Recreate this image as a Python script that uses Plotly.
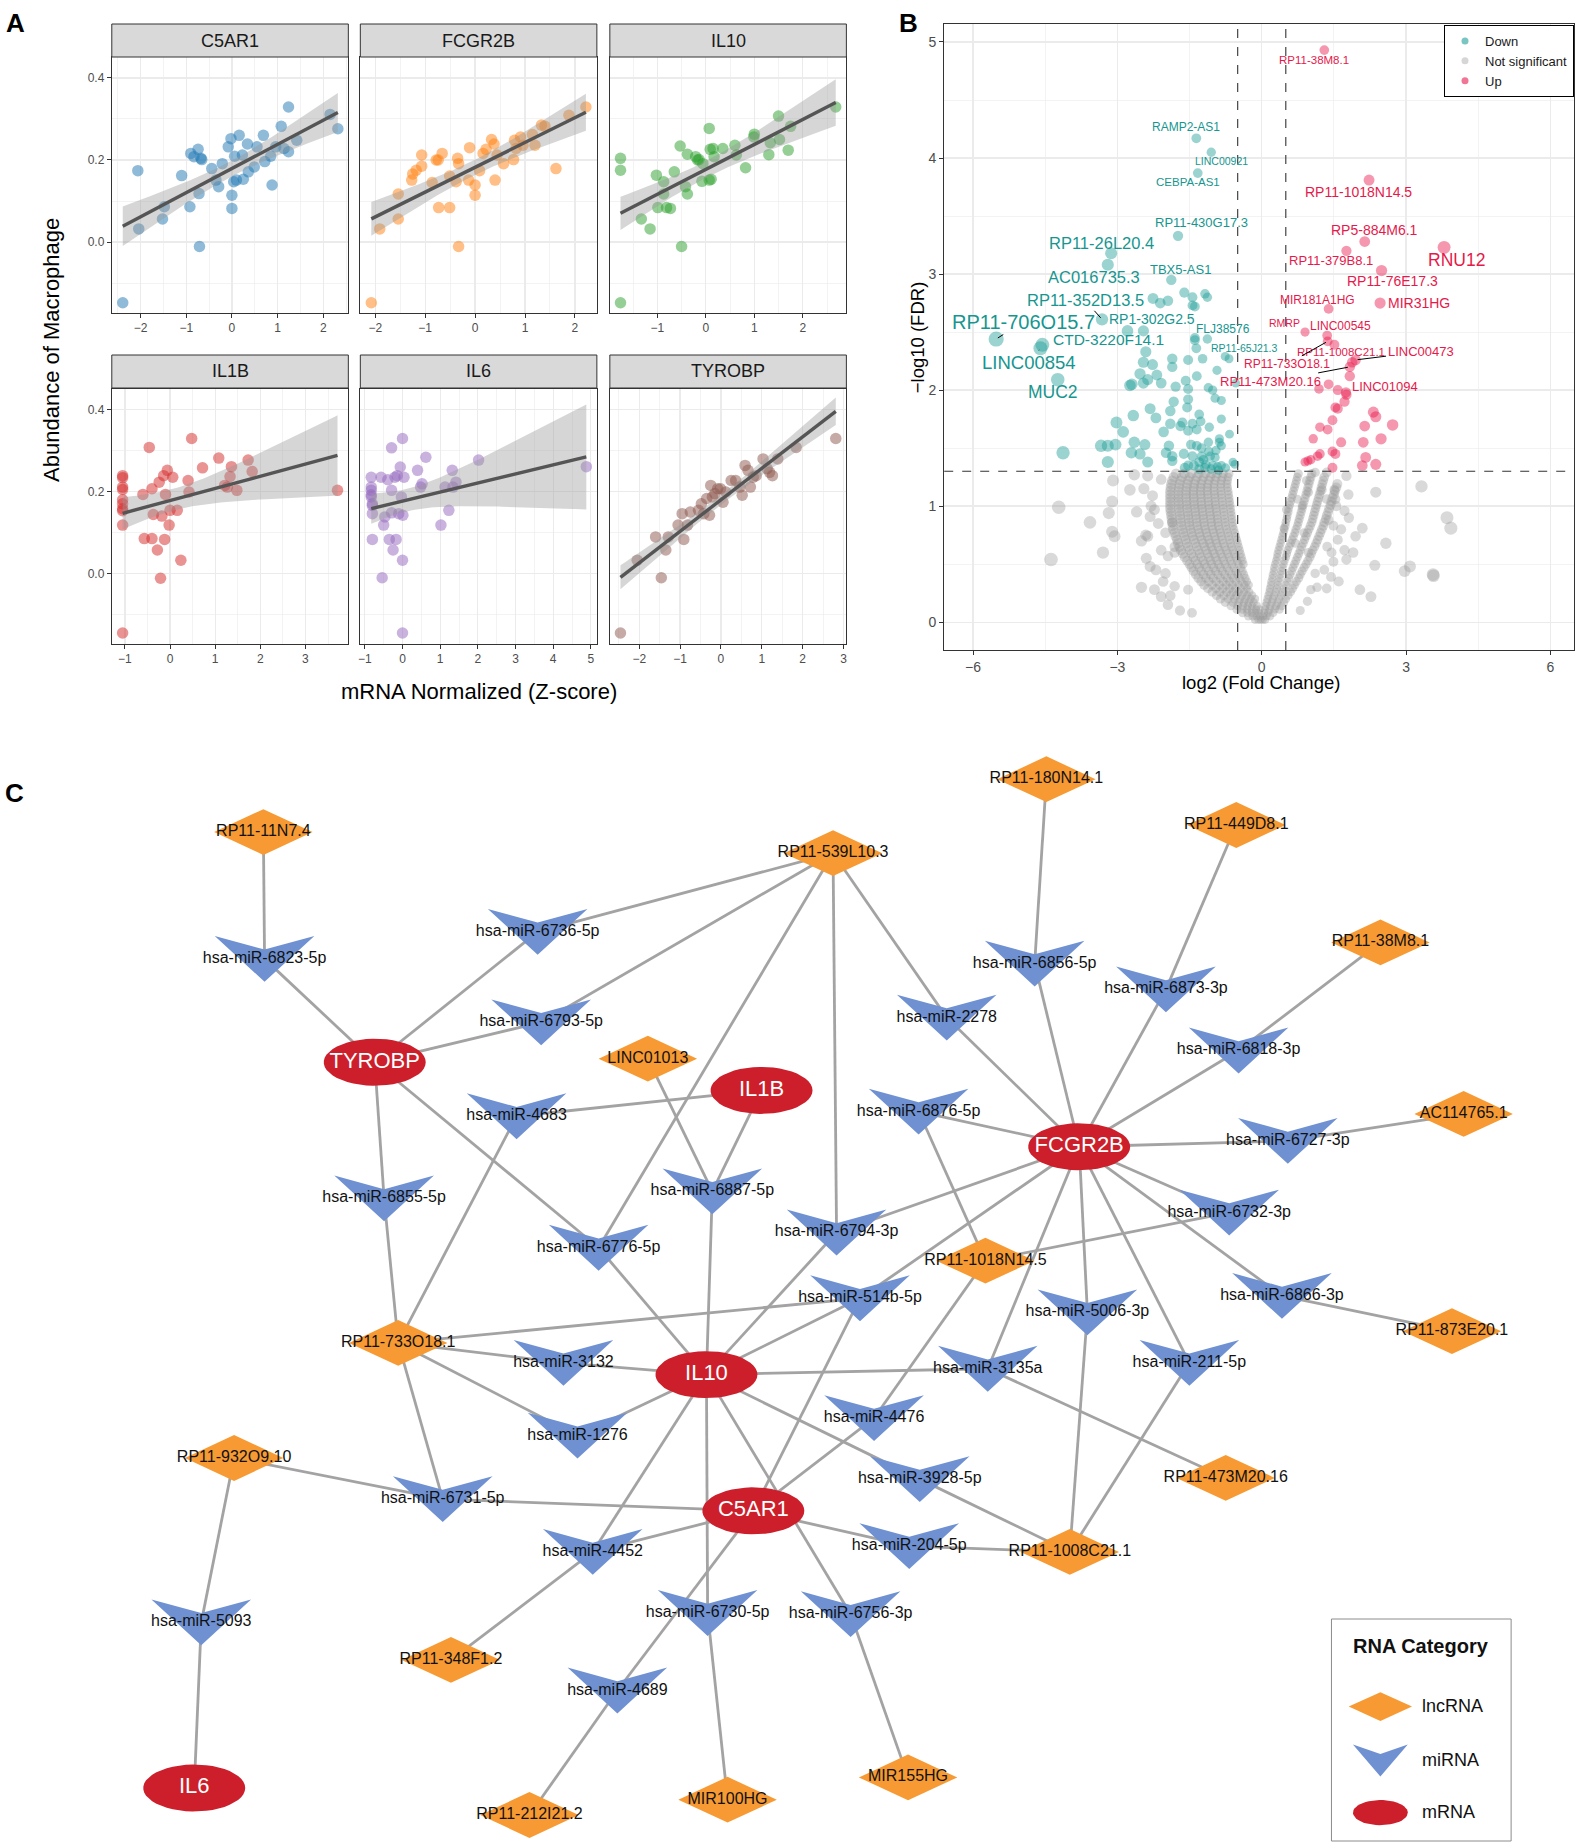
import numpy as np
import plotly.graph_objects as go

W, H = 1576, 1842
FONT = "Liberation Sans, Arial, Helvetica, sans-serif"

# ======================= Panel A data =======================
genes_a = ["C5AR1", "FCGR2B", "IL10", "IL1B", "IL6", "TYROBP"]
colors_a = ["#1F77B4", "#FF7F0E", "#2CA02C", "#D62728", "#9467BD", "#8C564B"]

c5ar1_pts = [(-2.39, -0.148), (-2.06, 0.174), (-2.04, 0.032), (-1.52, 0.056), (-1.48, 0.086),
             (-1.10, 0.162), (-0.92, 0.086), (-0.90, 0.216), (-0.83, 0.208), (-0.74, 0.226),
             (-0.71, -0.011), (-0.72, 0.118), (-0.68, 0.204), (-0.66, 0.201), (-0.44, 0.179),
             (-0.35, 0.151), (-0.29, 0.135), (-0.21, 0.191), (-0.08, 0.232), (-0.02, 0.252),
             (0.00, 0.114), (0.00, 0.082), (0.04, 0.147), (0.06, 0.209), (0.10, 0.151),
             (0.16, 0.260), (0.23, 0.212), (0.25, 0.153), (0.34, 0.239), (0.36, 0.171),
             (0.49, 0.183), (0.55, 0.232), (0.69, 0.260), (0.72, 0.196), (0.85, 0.209),
             (0.88, 0.139), (0.96, 0.232), (1.08, 0.282), (1.14, 0.228), (1.24, 0.329),
             (1.24, 0.220), (1.42, 0.248), (2.15, 0.311), (2.32, 0.276)]
fcgr2b_pts = [(-2.08, -0.148), (-1.91, 0.032), (-1.54, 0.056), (-1.54, 0.117), (-1.27, 0.151),
              (-1.25, 0.166), (-1.18, 0.175), (-1.07, 0.185), (-1.07, 0.212), (-0.86, 0.145),
              (-0.78, 0.200), (-0.74, 0.200), (-0.73, 0.084), (-0.66, 0.216), (-0.51, 0.084),
              (-0.51, 0.161), (-0.38, 0.147), (-0.35, 0.204), (-0.33, -0.011), (-0.33, 0.191),
              (-0.13, 0.151), (-0.11, 0.230), (0.00, 0.139), (0.00, 0.114), (0.09, 0.174),
              (0.16, 0.216), (0.22, 0.226), (0.33, 0.250), (0.38, 0.239), (0.40, 0.151),
              (0.44, 0.212), (0.57, 0.191), (0.77, 0.201), (0.79, 0.248), (0.82, 0.228),
              (0.91, 0.256), (0.96, 0.236), (1.15, 0.262), (1.20, 0.236), (1.33, 0.285),
              (1.40, 0.282), (1.62, 0.179), (1.88, 0.309), (2.22, 0.329)]
il10_pts = [(-1.76, -0.148), (-1.76, 0.204), (-1.76, 0.175), (-1.33, 0.056), (-1.15, 0.032),
            (-1.02, 0.163), (-0.99, 0.084), (-0.87, 0.147), (-0.87, 0.117), (-0.81, 0.084),
            (-0.73, 0.082), (-0.65, 0.171), (-0.53, 0.234), (-0.50, -0.011), (-0.42, 0.135),
            (-0.38, 0.117), (-0.38, 0.214), (-0.21, 0.208), (-0.17, 0.200), (-0.14, 0.201),
            (-0.08, 0.148), (-0.06, 0.191), (0.07, 0.277), (0.07, 0.151), (0.09, 0.226),
            (0.11, 0.153), (0.15, 0.228), (0.17, 0.208), (0.35, 0.228), (0.60, 0.236),
            (0.63, 0.212), (0.82, 0.181), (0.99, 0.256), (1.00, 0.263), (1.30, 0.213),
            (1.33, 0.242), (1.50, 0.307), (1.52, 0.250), (1.70, 0.224), (1.75, 0.282),
            (2.68, 0.329)]
il1b_pts = [(-1.05, -0.146), (-1.05, 0.239), (-1.05, 0.234), (-1.05, 0.211), (-1.05, 0.205),
            (-1.05, 0.180), (-1.05, 0.170), (-1.05, 0.158), (-1.05, 0.153), (-1.05, 0.118),
            (-0.60, 0.193), (-0.57, 0.085), (-0.46, 0.308), (-0.40, 0.085), (-0.40, 0.207),
            (-0.37, 0.144), (-0.28, 0.057), (-0.24, 0.223), (-0.21, -0.012), (-0.18, 0.140),
            (-0.14, 0.239), (-0.12, 0.083), (-0.10, 0.193), (-0.06, 0.252), (-0.02, 0.118),
            (0.00, 0.154), (0.06, 0.235), (0.16, 0.154), (0.24, 0.032), (0.40, 0.227),
            (0.42, 0.199), (0.48, 0.330), (0.72, 0.258), (1.08, 0.282), (1.21, 0.215),
            (1.27, 0.211), (1.33, 0.237), (1.36, 0.261), (1.48, 0.203), (1.73, 0.277),
            (1.82, 0.249), (3.71, 0.203)]
il6_pts = [(0.00, -0.146), (-0.54, -0.011), (-0.80, 0.083), (-0.83, 0.211), (-0.83, 0.203),
           (-0.83, 0.192), (-0.83, 0.187), (-0.80, 0.170), (-0.80, 0.166), (-0.83, 0.235),
           (-0.80, 0.146), (-0.50, 0.118), (-0.47, 0.138), (-0.57, 0.235), (-0.39, 0.229),
           (-0.35, 0.083), (-0.29, 0.307), (-0.29, 0.203), (-0.29, 0.148), (-0.25, 0.057),
           (-0.20, 0.235), (-0.17, 0.083), (-0.14, 0.239), (-0.10, 0.146), (-0.06, 0.260),
           (-0.03, 0.187), (0.00, 0.330), (0.00, 0.032), (0.01, 0.142), (0.04, 0.235),
           (0.40, 0.252), (0.48, 0.211), (0.52, 0.219), (0.62, 0.284), (1.02, 0.118),
           (1.13, 0.211), (1.23, 0.154), (1.32, 0.252), (1.34, 0.211), (1.42, 0.223),
           (2.02, 0.277), (4.88, 0.261)]
tyrobp_pts = [(-2.46, -0.146), (-2.05, 0.032), (-1.60, 0.089), (-1.46, -0.011), (-1.35, 0.057),
              (-1.29, 0.089), (-1.05, 0.118), (-0.95, 0.146), (-0.91, 0.083), (-0.82, 0.118),
              (-0.75, 0.150), (-0.55, 0.154), (-0.48, 0.170), (-0.42, 0.146), (-0.35, 0.183),
              (-0.28, 0.142), (-0.25, 0.215), (-0.21, 0.187), (-0.15, 0.195), (-0.08, 0.207),
              (-0.01, 0.207), (0.05, 0.174), (0.12, 0.199), (0.25, 0.227), (0.36, 0.227),
              (0.46, 0.211), (0.52, 0.191), (0.59, 0.264), (0.66, 0.252), (0.72, 0.211),
              (0.79, 0.235), (0.86, 0.239), (1.03, 0.280), (1.13, 0.256), (1.19, 0.247),
              (1.26, 0.239), (1.39, 0.280), (1.84, 0.308), (2.81, 0.330)]
panel_a_pts = [c5ar1_pts, fcgr2b_pts, il10_pts, il1b_pts, il6_pts, tyrobp_pts]
x_ticks_a = [-2, -1, 0, 1, 2, 3, 4, 5]
y_ticks_a = [0.0, 0.2, 0.4]

# ======================= Panel B data =======================
FC_CUT = 0.5
FDR_CUT = 1.301

down_labels = [("RAMP2-AS1", -1.36, 4.17), ("LINC00921", -1.05, 4.05), ("CEBPA-AS1", -1.33, 3.87),
               ("RP11-430G17.3", -1.74, 3.33), ("RP11-26L20.4", -3.13, 3.18), ("AC016735.3", -3.20, 3.08),
               ("TBX5-AS1", -1.88, 2.95), ("RP11-352D13.5", -3.32, 2.61), ("RP1-302G2.5", -2.46, 2.51),
               ("RP11-706O15.7", -5.52, 2.44), ("CTD-3220F14.1", -4.56, 2.39), ("LINC00854", -4.60, 2.36),
               ("MUC2", -4.24, 2.09), ("FLJ38576", -1.13, 2.44), ("RP11-65J21.3", -0.76, 2.29)]
up_labels = [("RP11-38M8.1", 1.30, 4.93), ("RP11-1018N14.5", 2.23, 3.81), ("RP5-884M6.1", 2.14, 3.28),
             ("RP11-379B8.1", 1.76, 3.20), ("RNU12", 3.79, 3.23), ("RP11-76E17.3", 2.49, 3.03),
             ("MIR31HG", 2.46, 2.75), ("MIR181A1HG", 1.39, 2.70), ("RMRP", 0.90, 2.50),
             ("LINC00545", 1.36, 2.47), ("RP11-1008C21.1", 1.51, 2.39), ("RP11-733O18.1", 1.37, 2.42),
             ("LINC00473", 1.95, 2.26), ("RP11-473M20.16", 1.83, 2.20), ("LINC01094", 1.83, 2.12)]

down_pts = [(-2.79, 2.51), (-2.41, 2.33), (-1.39, 2.45), (-1.36, 2.36), (-1.23, 2.27), (-1.53, 2.26),
            (-1.86, 2.27), (-2.46, 2.24), (-2.27, 2.22), (-2.53, 2.14), (-1.86, 2.20), (-2.18, 2.13),
            (-0.93, 2.17), (-1.35, 2.12), (-1.58, 2.08), (-2.37, 2.09), (-2.74, 2.04), (-2.70, 2.05),
            (-2.46, 2.06), (-2.09, 2.06), (-1.79, 2.03), (-1.53, 2.01), (-1.11, 2.02), (-1.02, 2.00),
            (-0.54, 2.06), (-1.53, 1.92), (-0.97, 1.93), (-0.84, 1.91), (-1.55, 1.85), (-2.32, 1.84),
            (-1.83, 1.90), (-1.90, 1.82), (-1.30, 1.79), (-2.67, 1.78), (-2.20, 1.76), (-3.02, 1.72),
            (-1.90, 1.71), (-1.65, 1.72), (-1.69, 1.69), (-1.44, 1.71), (-1.27, 1.73), (-1.09, 1.68),
            (-0.84, 1.75), (-2.88, 1.64), (-1.53, 1.65), (-1.35, 1.66), (-2.04, 1.64), (-0.88, 1.58),
            (-0.67, 1.62), (-3.34, 1.52), (-3.20, 1.52), (-3.04, 1.53), (-2.65, 1.55), (-2.43, 1.53),
            (-1.93, 1.52), (-1.47, 1.53), (-1.35, 1.52), (-1.11, 1.55), (-0.84, 1.52), (-0.88, 1.55),
            (-4.13, 1.46), (-2.71, 1.46), (-2.53, 1.45), (-1.99, 1.46), (-1.86, 1.43), (-1.62, 1.45),
            (-1.44, 1.43), (-1.25, 1.43), (-1.07, 1.43), (-0.97, 1.42), (-3.20, 1.38), (-2.37, 1.38),
            (-1.86, 1.39), (-1.30, 1.38), (-1.16, 1.36), (-1.21, 1.40), (-1.02, 1.35), (-0.84, 1.35),
            (-0.60, 1.38), (-0.56, 1.36), (-1.41, 1.35), (-1.53, 1.35), (-2.26, 2.79), (-2.11, 2.75),
            (-1.95, 2.77), (-1.61, 2.84), (-1.44, 2.80), (-1.18, 2.83), (-1.13, 2.80), (-1.44, 2.73),
            (-1.39, 2.72), (-1.39, 2.43), (-0.68, 2.27), (-1.30, 1.32), (-1.18, 1.33), (-1.05, 1.32),
            (-0.92, 1.34), (-1.10, 1.47), (-0.95, 1.48), (-1.25, 1.50), (-0.90, 1.31), (-0.75, 1.33),
            (-1.60, 1.33)]
up_pts = [(1.39, 2.05), (1.19, 2.01), (1.58, 2.00), (1.75, 1.98), (1.72, 1.90), (1.53, 1.85),
          (1.58, 1.84), (2.32, 1.81), (2.37, 1.77), (2.14, 1.69), (2.72, 1.70), (1.47, 1.74),
          (1.21, 1.68), (1.37, 1.66), (1.07, 1.58), (2.48, 1.58), (2.11, 1.55), (1.65, 1.55),
          (1.47, 1.47), (1.53, 1.45), (1.21, 1.45), (1.16, 1.43), (1.02, 1.40), (0.90, 1.38),
          (0.96, 1.39), (2.16, 1.42), (2.37, 1.36), (2.09, 1.35), (1.47, 1.33), (1.76, 1.96),
          (1.88, 2.24)]
ns_outliers = [(-3.09, 1.22), (-2.65, 1.27), (-4.22, 0.99), (-3.11, 1.04), (-3.18, 0.94), (-3.57, 0.86),
               (-3.11, 0.78), (-3.06, 0.74), (-3.30, 0.60), (-4.38, 0.54), (-2.74, 1.14), (-2.37, 1.26),
               (-2.27, 1.09), (-2.23, 0.97), (-2.32, 0.91), (-2.37, 0.74), (-2.41, 0.75), (-2.32, 0.48),
               (-2.23, 0.28), (-2.09, 0.22), (-1.90, 0.23), (-2.00, 0.42), (-1.81, 0.31), (-1.53, 0.28),
               (-1.86, 0.86), (-2.00, 0.77), (-2.09, 0.62), (-1.81, 0.60), (-1.95, 0.57), (-1.81, 0.65),
               (-2.09, 1.23), (3.32, 1.17), (2.37, 1.12), (3.85, 0.90), (3.93, 0.81), (2.58, 0.68),
               (2.09, 0.81), (1.95, 0.74), (2.35, 0.49), (3.08, 0.48), (2.97, 0.44), (3.56, 0.41),
               (3.57, 0.40), (2.04, 0.28), (2.27, 0.22), (1.76, 1.26), (1.81, 0.90), (1.72, 0.96),
               (1.72, 0.62), (1.76, 0.54), (1.35, 1.06), (1.53, 1.06), (1.51, 1.14), (1.25, 1.14),
               (1.11, 1.29), (0.93, 1.22), (1.35, 1.29), (1.49, 0.83), (1.58, 0.71), (1.39, 0.88),
               (1.36, 0.65), (1.49, 0.52), (1.44, 0.39), (1.35, 0.29), (1.02, 0.28), (1.11, 0.42),
               (0.97, 0.60), (0.84, 1.00), (0.74, 1.06), (0.97, 1.12), (0.88, 0.77), (0.70, 0.68),
               (0.46, 0.81), (0.51, 0.97), (-2.45, 1.15), (-2.30, 1.00), (-2.15, 0.85), (-2.40, 0.55),
               (-2.20, 0.45), (-2.05, 0.35), (-2.50, 0.30), (-1.95, 0.15), (-1.70, 0.10), (-1.45, 0.08),
               (-2.60, 0.95), (-2.50, 0.70), (1.55, 1.00), (1.65, 0.80), (1.80, 1.10), (1.45, 0.60),
               (1.30, 0.45), (1.15, 0.30), (0.95, 0.18), (0.80, 0.10), (1.60, 0.35), (1.90, 0.60)]
# dense V-shaped cloud of non-significant genes, read row by row (FDR level, [log2FC values])
ns_rows = [
    (0.02, [-0.14, -0.07, -0.02, 0.02, 0.07]),
    (0.05, [-0.28, -0.19, -0.11, -0.04, 0.03, 0.10, 0.17]),
    (0.08, [-0.40, -0.30, -0.21, -0.13, -0.06, 0.05, 0.13, 0.24]),
    (0.11, [-0.52, -0.40, -0.30, -0.21, -0.12, -0.05, 0.07, 0.16, 0.27, 0.37]),
    (0.14, [-0.64, -0.50, -0.39, -0.29, -0.20, -0.10, 0.08, 0.18, 0.30, 0.41]),
    (0.17, [-0.76, -0.60, -0.48, -0.37, -0.27, -0.17, 0.10, 0.21, 0.33, 0.46]),
    (0.20, [-0.86, -0.70, -0.57, -0.45, -0.34, -0.23, -0.14, 0.12, 0.23, 0.36, 0.50]),
    (0.23, [-0.94, -0.79, -0.65, -0.53, -0.41, -0.30, -0.20, 0.14, 0.26, 0.40, 0.55]),
    (0.26, [-1.03, -0.87, -0.73, -0.60, -0.48, -0.37, -0.26, 0.16, 0.29, 0.43, 0.60]),
    (0.29, [-1.12, -0.95, -0.81, -0.67, -0.55, -0.43, -0.31, 0.17, 0.31, 0.46, 0.64]),
    (0.32, [-1.20, -1.03, -0.88, -0.74, -0.61, -0.48, -0.36, -0.27, 0.19, 0.33, 0.50, 0.68]),
    (0.35, [-1.26, -1.10, -0.95, -0.80, -0.67, -0.54, -0.42, -0.31, 0.20, 0.35, 0.53, 0.72]),
    (0.38, [-1.32, -1.16, -1.01, -0.86, -0.72, -0.59, -0.46, -0.34, 0.22, 0.37, 0.56, 0.77]),
    (0.41, [-1.37, -1.21, -1.06, -0.91, -0.77, -0.63, -0.50, -0.37, 0.23, 0.39, 0.59, 0.80]),
    (0.44, [-1.42, -1.26, -1.10, -0.96, -0.82, -0.68, -0.54, -0.40, 0.25, 0.41, 0.62, 0.84]),
    (0.47, [-1.46, -1.30, -1.15, -1.00, -0.86, -0.72, -0.58, -0.43, 0.26, 0.43, 0.65, 0.88]),
    (0.50, [-1.50, -1.34, -1.19, -1.04, -0.90, -0.76, -0.62, -0.48, -0.38, 0.28, 0.45, 0.68, 0.92]),
    (0.53, [-1.55, -1.38, -1.22, -1.07, -0.93, -0.79, -0.65, -0.51, -0.40, 0.30, 0.47, 0.71, 0.96]),
    (0.56, [-1.60, -1.42, -1.26, -1.10, -0.96, -0.82, -0.68, -0.54, -0.42, 0.32, 0.50, 0.74, 1.00]),
    (0.59, [-1.64, -1.46, -1.29, -1.13, -0.99, -0.85, -0.71, -0.57, -0.44, 0.33, 0.52, 0.77, 1.03]),
    (0.62, [-1.68, -1.50, -1.32, -1.16, -1.02, -0.88, -0.74, -0.60, -0.46, 0.35, 0.54, 0.80, 1.06]),
    (0.65, [-1.71, -1.53, -1.35, -1.19, -1.05, -0.91, -0.77, -0.63, -0.48, 0.37, 0.57, 0.83, 1.10]),
    (0.68, [-1.74, -1.56, -1.38, -1.22, -1.08, -0.94, -0.80, -0.65, -0.50, 0.39, 0.60, 0.86, 1.13]),
    (0.71, [-1.76, -1.58, -1.41, -1.25, -1.10, -0.96, -0.82, -0.67, -0.52, 0.41, 0.63, 0.89, 1.16]),
    (0.74, [-1.79, -1.61, -1.44, -1.28, -1.13, -0.98, -0.84, -0.69, -0.54, 0.43, 0.66, 0.92, 1.19]),
    (0.77, [-1.81, -1.63, -1.46, -1.30, -1.15, -1.00, -0.86, -0.71, -0.56, 0.45, 0.69, 0.95, 1.22]),
    (0.80, [-1.84, -1.65, -1.48, -1.32, -1.17, -1.02, -0.88, -0.73, -0.58, 0.47, 0.71, 0.98, 1.25]),
    (0.83, [-1.85, -1.67, -1.50, -1.34, -1.19, -1.04, -0.90, -0.75, -0.60, 0.49, 0.74, 1.01, 1.28]),
    (0.86, [-1.86, -1.68, -1.51, -1.35, -1.20, -1.05, -0.91, -0.76, -0.61, 0.50, 0.76, 1.04, 1.30]),
    (0.89, [-1.87, -1.69, -1.52, -1.36, -1.21, -1.06, -0.92, -0.77, -0.62, 0.52, 0.78, 1.06, 1.33]),
    (0.92, [-1.88, -1.70, -1.53, -1.37, -1.22, -1.07, -0.93, -0.78, -0.63, 0.53, 0.80, 1.08, 1.35]),
    (0.95, [-1.89, -1.71, -1.54, -1.38, -1.23, -1.08, -0.94, -0.79, -0.64, 0.55, 0.82, 1.10, 1.38]),
    (0.98, [-1.90, -1.72, -1.55, -1.39, -1.24, -1.09, -0.95, -0.80, -0.65, 0.56, 0.84, 1.12, 1.40]),
    (1.01, [-1.90, -1.72, -1.56, -1.40, -1.25, -1.10, -0.96, -0.81, -0.66, 0.58, 0.86, 1.14, 1.43]),
    (1.04, [-1.90, -1.73, -1.56, -1.41, -1.26, -1.11, -0.97, -0.82, -0.67, 0.60, 0.88, 1.16, 1.45]),
    (1.07, [-1.90, -1.73, -1.57, -1.41, -1.26, -1.12, -0.97, -0.83, -0.68, 0.62, 0.90, 1.18, 1.47]),
    (1.10, [-1.90, -1.73, -1.57, -1.42, -1.27, -1.12, -0.98, -0.84, -0.69, 0.64, 0.92, 1.20, 1.50]),
    (1.13, [-1.90, -1.73, -1.57, -1.42, -1.27, -1.13, -0.99, -0.85, -0.70, 0.66, 0.94, 1.22, 1.52]),
    (1.16, [-1.89, -1.72, -1.56, -1.41, -1.27, -1.13, -0.99, -0.85, -0.71, 0.68, 0.96, 1.24, 1.55]),
    (1.19, [-1.88, -1.71, -1.55, -1.40, -1.26, -1.12, -0.99, -0.85, -0.72, 0.70, 0.98, 1.26, 1.57]),
    (1.22, [-1.86, -1.69, -1.53, -1.38, -1.24, -1.10, -0.97, -0.84, -0.71, 0.72, 1.00, 1.28]),
    (1.25, [-1.83, -1.66, -1.50, -1.35, -1.21, -1.07, -0.95, -0.82, -0.70, 0.74, 1.02, 1.30]),
    (1.28, [-1.78, -1.61, -1.46, -1.31, -1.17, -1.04, -0.92, -0.80, -0.68, 0.76, 1.04]),
]

# ======================= Panel C data =======================
mrna_names = ["TYROBP", "IL1B", "FCGR2B", "IL10", "C5AR1", "IL6"]
mrna_x = [318, 648, 919, 601, 641, 164]
mrna_y = [904, 928, 976, 1170, 1286, 1522]

lnc_names = ["RP11-11N7.4", "RP11-539L10.3", "RP11-180N14.1", "RP11-449D8.1", "RP11-38M8.1",
             "LINC01013", "AC114765.1", "RP11-1018N14.5", "RP11-873E20.1", "RP11-733O18.1",
             "RP11-932O9.10", "RP11-473M20.16", "RP11-1008C21.1", "RP11-348F1.2", "RP11-212I21.2",
             "MIR100HG", "MIR155HG"]
lnc_x = [223, 709, 891, 1053, 1176, 551, 1247, 839, 1237, 338, 198, 1044, 911, 383, 450, 619, 773]
lnc_y = [708, 726, 663, 702, 802, 901, 948, 1073, 1133, 1143, 1241, 1258, 1321, 1413, 1545, 1532, 1513]

mir_names = ["hsa-miR-6823-5p", "hsa-miR-6736-5p", "hsa-miR-6793-5p", "hsa-miR-2278", "hsa-miR-6856-5p",
             "hsa-miR-6873-3p", "hsa-miR-6818-3p", "hsa-miR-4683", "hsa-miR-6876-5p", "hsa-miR-6727-3p",
             "hsa-miR-6855-5p", "hsa-miR-6887-5p", "hsa-miR-6776-5p", "hsa-miR-6794-3p", "hsa-miR-6732-3p",
             "hsa-miR-514b-5p", "hsa-miR-5006-3p", "hsa-miR-6866-3p", "hsa-miR-3132", "hsa-miR-3135a",
             "hsa-miR-211-5p", "hsa-miR-1276", "hsa-miR-4476", "hsa-miR-3928-5p", "hsa-miR-6731-5p",
             "hsa-miR-4452", "hsa-miR-204-5p", "hsa-miR-5093", "hsa-miR-6730-5p", "hsa-miR-6756-3p",
             "hsa-miR-4689"]
mir_x = [224, 457, 460, 806, 881, 993, 1055, 439, 782, 1097, 326, 606, 509, 712, 1047, 732, 926, 1092,
         479, 841, 1013, 491, 744, 783, 376, 504, 774, 170, 602, 724, 525]
mir_y = [816, 793, 870, 866, 820, 842, 894, 950, 946, 971, 1020, 1014, 1062, 1049, 1032, 1105, 1117, 1103,
         1160, 1165, 1160, 1222, 1207, 1259, 1276, 1321, 1316, 1381, 1373, 1374, 1439]

edges = [
    ("RP11-11N7.4", "hsa-miR-6823-5p"), ("hsa-miR-6823-5p", "TYROBP"),
    ("TYROBP", "hsa-miR-6736-5p"), ("TYROBP", "hsa-miR-6793-5p"), ("TYROBP", "hsa-miR-6855-5p"),
    ("TYROBP", "hsa-miR-6776-5p"),
    ("RP11-539L10.3", "hsa-miR-6736-5p"), ("RP11-539L10.3", "hsa-miR-6793-5p"),
    ("RP11-539L10.3", "hsa-miR-6776-5p"), ("RP11-539L10.3", "hsa-miR-6794-3p"),
    ("RP11-539L10.3", "hsa-miR-2278"),
    ("IL1B", "hsa-miR-4683"), ("IL1B", "hsa-miR-6887-5p"), ("LINC01013", "hsa-miR-6887-5p"),
    ("RP11-733O18.1", "hsa-miR-4683"), ("RP11-733O18.1", "hsa-miR-6855-5p"),
    ("RP11-733O18.1", "hsa-miR-514b-5p"), ("RP11-733O18.1", "hsa-miR-3132"),
    ("RP11-733O18.1", "hsa-miR-1276"), ("RP11-733O18.1", "hsa-miR-6731-5p"),
    ("RP11-932O9.10", "hsa-miR-6731-5p"), ("RP11-932O9.10", "hsa-miR-5093"), ("hsa-miR-5093", "IL6"),
    ("FCGR2B", "hsa-miR-2278"), ("FCGR2B", "hsa-miR-6856-5p"), ("FCGR2B", "hsa-miR-6873-3p"),
    ("FCGR2B", "hsa-miR-6818-3p"), ("FCGR2B", "hsa-miR-6876-5p"), ("FCGR2B", "hsa-miR-6727-3p"),
    ("FCGR2B", "hsa-miR-6732-3p"), ("FCGR2B", "hsa-miR-6866-3p"), ("FCGR2B", "hsa-miR-6794-3p"),
    ("FCGR2B", "hsa-miR-514b-5p"), ("FCGR2B", "hsa-miR-3135a"), ("FCGR2B", "hsa-miR-5006-3p"),
    ("FCGR2B", "hsa-miR-211-5p"),
    ("RP11-180N14.1", "hsa-miR-6856-5p"), ("RP11-449D8.1", "hsa-miR-6873-3p"),
    ("RP11-38M8.1", "hsa-miR-6818-3p"), ("AC114765.1", "hsa-miR-6727-3p"),
    ("RP11-873E20.1", "hsa-miR-6866-3p"), ("RP11-1018N14.5", "hsa-miR-6876-5p"),
    ("RP11-1018N14.5", "hsa-miR-6732-3p"), ("RP11-1018N14.5", "hsa-miR-4476"),
    ("RP11-473M20.16", "hsa-miR-3135a"), ("RP11-1008C21.1", "hsa-miR-5006-3p"),
    ("RP11-1008C21.1", "hsa-miR-211-5p"), ("RP11-1008C21.1", "hsa-miR-3928-5p"),
    ("RP11-1008C21.1", "hsa-miR-204-5p"), ("RP11-348F1.2", "hsa-miR-4452"),
    ("RP11-212I21.2", "hsa-miR-4689"), ("MIR100HG", "hsa-miR-6730-5p"),
    ("MIR155HG", "hsa-miR-6756-3p"),
    ("IL10", "hsa-miR-6776-5p"), ("IL10", "hsa-miR-6887-5p"), ("IL10", "hsa-miR-6794-3p"),
    ("IL10", "hsa-miR-514b-5p"), ("IL10", "hsa-miR-3132"), ("IL10", "hsa-miR-1276"),
    ("IL10", "hsa-miR-3135a"), ("IL10", "hsa-miR-4452"), ("IL10", "hsa-miR-6730-5p"),
    ("IL10", "hsa-miR-3928-5p"), ("IL10", "hsa-miR-6756-3p"),
    ("C5AR1", "hsa-miR-6731-5p"), ("C5AR1", "hsa-miR-4452"), ("C5AR1", "hsa-miR-4689"),
    ("C5AR1", "hsa-miR-4476"), ("C5AR1", "hsa-miR-514b-5p"), ("C5AR1", "hsa-miR-204-5p"),
]

# ======================= styles / helpers =======================
GRID = "#EBEBEB"
BORDER = "#333333"
TICKC = "#4D4D4D"
S = W / 1342.0  # panel-C layout units -> pixels


def pxx(p):
    return p / W


def pxy(p):
    return 1 - p / H


def lm_band(pts, t=2.02, n=80):
    x = np.array([p[0] for p in pts])
    y = np.array([p[1] for p in pts])
    b, a = np.polyfit(x, y, 1)
    xg = np.linspace(x.min(), x.max(), n)
    yh = a + b * xg
    resid = y - (a + b * x)
    s = np.sqrt((resid ** 2).sum() / (len(x) - 2))
    sxx = ((x - x.mean()) ** 2).sum()
    se = s * np.sqrt(1.0 / len(x) + (xg - x.mean()) ** 2 / sxx)
    return xg, yh, yh - t * se, yh + t * se


def paper_text(x, y, text, size, color="#000000", angle=0, xanchor="center", yanchor="middle"):
    return dict(xref="paper", yref="paper", x=pxx(x), y=pxy(y), text=text, showarrow=False,
                xanchor=xanchor, yanchor=yanchor, textangle=angle, font=dict(size=size, color=color))


def vsize(v):
    return 8 + 1.3 * abs(v)


fig = go.Figure()
layout = dict(width=W, height=H, margin=dict(l=0, r=0, t=0, b=0),
              paper_bgcolor="white", plot_bgcolor="white",
              font=dict(family=FONT, color="#1A1A1A"), showlegend=True)
shapes = []
annotations = []

# ---------------- Panel A ----------------
cols_px = [(110, 347), (359, 596), (609, 846)]
rows_px = [(57, 313), (389, 644)]
strip_px = [(24, 57), (355, 388)]
xranges = [[-2.63, 2.55], [-2.30, 2.44], [-1.98, 2.90], [-1.29, 3.95], [-1.12, 5.16], [-2.72, 3.07]]
yrange = [-0.173, 0.451]

for i, pts in enumerate(panel_a_pts):
    r, c = divmod(i, 3)
    sfx = "" if i == 0 else str(i + 1)
    xa, ya = "x" + sfx, "y" + sfx
    layout["xaxis" + sfx] = dict(
        domain=[pxx(cols_px[c][0]), pxx(cols_px[c][1])], anchor=ya, range=xranges[i],
        tickmode="array", tickvals=x_ticks_a, ticks="outside", ticklen=4, tickwidth=1, tickcolor=BORDER,
        tickfont=dict(size=12, color=TICKC), showline=True, linecolor=BORDER, linewidth=1, mirror=True,
        showgrid=True, gridcolor=GRID, gridwidth=1.3, zeroline=False,
        minor=dict(dtick=0.5, tick0=0, showgrid=True, gridcolor=GRID, gridwidth=0.6))
    layout["yaxis" + sfx] = dict(
        domain=[pxy(rows_px[r][1]), pxy(rows_px[r][0])], anchor=xa, range=yrange,
        tickmode="array", tickvals=y_ticks_a, tickformat=".1f",
        ticks="outside" if c == 0 else "", ticklen=4, tickwidth=1, tickcolor=BORDER,
        showticklabels=(c == 0), tickfont=dict(size=12, color=TICKC),
        showline=True, linecolor=BORDER, linewidth=1, mirror=True,
        showgrid=True, gridcolor=GRID, gridwidth=1.3, zeroline=False,
        minor=dict(dtick=0.1, tick0=0, showgrid=True, gridcolor=GRID, gridwidth=0.6))
    fig.add_trace(go.Scatter(x=[p[0] for p in pts], y=[p[1] for p in pts], mode="markers",
                             marker=dict(size=11.5, color=colors_a[i], opacity=0.5, line=dict(width=0)),
                             xaxis=xa, yaxis=ya, showlegend=False, hoverinfo="skip"))
    xg, yh, lo, hi = lm_band(pts)
    fig.add_trace(go.Scatter(x=list(xg) + list(xg[::-1]), y=list(lo) + list(hi[::-1]), mode="lines",
                             fill="toself", fillcolor="rgba(153,153,153,0.4)", line=dict(width=0),
                             xaxis=xa, yaxis=ya, showlegend=False, hoverinfo="skip"))
    fig.add_trace(go.Scatter(x=xg, y=yh, mode="lines", line=dict(color="#555555", width=3.4),
                             xaxis=xa, yaxis=ya, showlegend=False, hoverinfo="skip"))
    shapes.append(dict(type="rect", xref="paper", yref="paper",
                       x0=pxx(cols_px[c][0]), x1=pxx(cols_px[c][1]),
                       y0=pxy(strip_px[r][1]), y1=pxy(strip_px[r][0]),
                       fillcolor="#D9D9D9", line=dict(color=BORDER, width=1)))
    annotations.append(paper_text((cols_px[c][0] + cols_px[c][1]) / 2, (strip_px[r][0] + strip_px[r][1]) / 2,
                                  genes_a[i], 18, "#1A1A1A"))

annotations.append(paper_text(478, 692, "mRNA Normalized (Z-score)", 22))
annotations.append(paper_text(50, 350, "Abundance of Macrophage", 22, angle=-90))

# ---------------- Panel B ----------------
layout["xaxis7"] = dict(domain=[pxx(944), pxx(1575)], anchor="y7", range=[-6.6, 6.49],
                        tickmode="array", tickvals=[-6, -3, 0, 3, 6], ticks="outside", ticklen=4,
                        tickcolor=BORDER, tickfont=dict(size=14, color=TICKC),
                        showline=True, linecolor=BORDER, linewidth=1, mirror=True,
                        showgrid=True, gridcolor=GRID, gridwidth=1.3, zeroline=False,
                        minor=dict(dtick=1.5, tick0=0, showgrid=True, gridcolor=GRID, gridwidth=0.6))
layout["yaxis7"] = dict(domain=[pxy(650), pxy(24)], anchor="x7", range=[-0.24, 5.155],
                        tickmode="array", tickvals=[0, 1, 2, 3, 4, 5], ticks="outside", ticklen=4,
                        tickcolor=BORDER, tickfont=dict(size=14, color=TICKC),
                        showline=True, linecolor=BORDER, linewidth=1, mirror=True,
                        showgrid=True, gridcolor=GRID, gridwidth=1.3, zeroline=False,
                        minor=dict(dtick=0.5, tick0=0, showgrid=True, gridcolor=GRID, gridwidth=0.6))

ns_fc = [p[0] for p in ns_outliers] + [x for yv, xs in ns_rows for x in xs]
ns_fdr = [p[1] for p in ns_outliers] + [yv for yv, xs in ns_rows for x in xs]
dn_fc = [p[0] for p in down_pts] + [d[1] for d in down_labels]
dn_fdr = [p[1] for p in down_pts] + [d[2] for d in down_labels]
up_fc = [p[0] for p in up_pts] + [d[1] for d in up_labels]
up_fdr = [p[1] for p in up_pts] + [d[2] for d in up_labels]

DOWN_C, UP_C, NS_C = "#1F9E97", "#E8194C", "#9A9A9A"
for fx, fy, col, op in [(ns_fc, ns_fdr, NS_C, 0.38), (dn_fc, dn_fdr, DOWN_C, 0.45), (up_fc, up_fdr, UP_C, 0.45)]:
    fig.add_trace(go.Scatter(x=fx, y=fy, mode="markers",
                             marker=dict(size=[vsize(v) for v in fx], color=col, opacity=op,
                                         line=dict(width=0)),
                             xaxis="x7", yaxis="y7", showlegend=False, hoverinfo="skip"))
for nm, col in [("Down", DOWN_C), ("Not significant", "#BBBBBB"), ("Up", UP_C)]:
    fig.add_trace(go.Scatter(x=[None], y=[None], mode="markers", name=nm,
                             marker=dict(size=7, color=col, opacity=0.6), xaxis="x7", yaxis="y7",
                             showlegend=True))

for xv in (-FC_CUT, FC_CUT):
    shapes.append(dict(type="line", xref="x7", yref="y7 domain", x0=xv, x1=xv, y0=0, y1=1,
                       line=dict(color="#333333", width=1.1, dash="dash"), layer="above"))
shapes.append(dict(type="line", xref="x7 domain", yref="y7", x0=0, x1=1, y0=FDR_CUT, y1=FDR_CUT,
                   line=dict(color="#333333", width=1.1, dash="dash"), layer="above"))

# label styles: (xshift, yshift, font size, xanchor, segment)
label_style = {
    "RAMP2-AS1": (-10, 11, 12, "center", False), "LINC00921": (10, -9, 10.5, "center", False),
    "CEBPA-AS1": (-10, -9, 11.5, "center", False), "RP11-430G17.3": (23, 13, 13, "center", False),
    "RP11-26L20.4": (-10, 10, 16.5, "center", False), "AC016735.3": (-14, -12, 16.5, "center", False),
    "TBX5-AS1": (9, 10, 13, "center", False), "RP11-352D13.5": (-17, -19, 16.5, "center", True),
    "RP1-302G2.5": (9, 12, 14, "center", False), "RP11-706O15.7": (27, -17, 20, "center", True),
    "CTD-3220F14.1": (9, 5, 15.5, "left", False), "LINC00854": (-11, 14, 18.5, "center", True),
    "MUC2": (-5, -12, 17.5, "center", False), "FLJ38576": (16, 10, 12, "center", False),
    "RP11-65J21.3": (19, 8, 10.5, "center", False),
    "RP11-38M8.1": (-10, -10, 11.5, "center", False), "RP11-1018N14.5": (-11, -12, 14, "center", False),
    "RP5-884M6.1": (10, 12, 14, "center", False), "RP11-379B8.1": (-15, -10, 13, "center", False),
    "RNU12": (12, -13, 17.5, "center", False), "RP11-76E17.3": (11, -10, 14, "center", False),
    "MIR31HG": (6, 0, 14, "left", False), "MIR181A1HG": (-11, 9, 12, "center", False),
    "RMRP": (-21, 9, 10.5, "center", False), "LINC00545": (13, 10, 12, "center", False),
    "RP11-1008C21.1": (7, -7, 11.5, "center", False), "RP11-733O18.1": (-41, 23, 12, "center", True),
    "LINC00473": (65, -8, 13, "center", True), "RP11-473M20.16": (-79, 15, 13, "center", True),
    "LINC01094": (35, -10, 13, "center", False),
}
for labs, tcol in [(down_labels, "#16968F"), (up_labels, "#E5194B")]:
    for nm, fcv, fdrv in labs:
        dx, dy, fs, anc, seg = label_style[nm]
        if seg:
            annotations.append(dict(xref="x7", yref="y7", x=fcv, y=fdrv, text=nm, showarrow=True,
                                    ax=dx, ay=dy, arrowhead=0, arrowwidth=1, arrowcolor="#000000",
                                    standoff=2, font=dict(size=fs, color=tcol)))
        else:
            annotations.append(dict(xref="x7", yref="y7", x=fcv, y=fdrv, text=nm, showarrow=False,
                                    xshift=dx, yshift=dy, xanchor=anc, yanchor="middle",
                                    font=dict(size=fs, color=tcol)))

annotations.append(paper_text(1261, 683, "log2 (Fold Change)", 18.5))
annotations.append(paper_text(918, 337, "\u2212log10 (FDR)", 18.5, angle=-90))

layout["legend"] = dict(x=pxx(1575), xanchor="right", y=pxy(25), yanchor="top", bgcolor="white",
                        bordercolor="#000000", borderwidth=1, font=dict(size=13, color="#1A1A1A"),
                        itemwidth=30, tracegroupgap=2)

# ---------------- Panel C ----------------
ytop_c = 1568 - 0.62 * H / S
layout["xaxis8"] = dict(domain=[0, 1], anchor="y8", range=[0, 1342], visible=False, fixedrange=True)
layout["yaxis8"] = dict(domain=[0, 0.62], anchor="x8", range=[1568, ytop_c], visible=False, fixedrange=True)

pos = {}
for nms, xs, ys in [(mrna_names, mrna_x, mrna_y), (lnc_names, lnc_x, lnc_y), (mir_names, mir_x, mir_y)]:
    for n_, x_, y_ in zip(nms, xs, ys):
        pos[n_] = (x_, y_)

ex, ey = [], []
for a, b in edges:
    ex += [pos[a][0], pos[b][0], None]
    ey += [pos[a][1], pos[b][1], None]
fig.add_trace(go.Scatter(x=ex, y=ey, mode="lines", line=dict(color="#A3A3A3", width=2.8),
                         xaxis="x8", yaxis="y8", showlegend=False, hoverinfo="skip"))

LNC_C, MIR_C, MRNA_C = "#F79A33", "#6F91D2", "#CD1F2B"


def diamond(cx, cy, hw, hh):
    return [cx - hw, cx, cx + hw, cx, cx - hw, None], [cy, cy - hh, cy, cy + hh, cy, None]


def chevron(cx, cy, hw, hh, notch):
    return ([cx - hw, cx, cx + hw, cx, cx - hw, None],
            [cy - hh, cy - hh + notch, cy - hh, cy + hh, cy - hh, None])


def ellipse(cx, cy, rx, ry, n=48):
    t = np.linspace(0, 2 * np.pi, n)
    return list(cx + rx * np.cos(t)) + [None], list(cy + ry * np.sin(t)) + [None]


def poly_trace(shape_fn, xs, ys, color, *args):
    px_, py_ = [], []
    for x_, y_ in zip(xs, ys):
        a_, b_ = shape_fn(x_, y_, *args)
        px_ += a_
        py_ += b_
    return go.Scatter(x=px_, y=py_, mode="lines", fill="toself", fillcolor=color,
                      line=dict(width=0, color=color), xaxis="x8", yaxis="y8",
                      showlegend=False, hoverinfo="skip")


fig.add_trace(poly_trace(diamond, lnc_x, lnc_y, LNC_C, 42, 19.5))
fig.add_trace(poly_trace(chevron, mir_x, mir_y, MIR_C, 42.5, 19.5, 11.6))
fig.add_trace(poly_trace(ellipse, mrna_x, mrna_y, MRNA_C, 43.5, 20))

fig.add_trace(go.Scatter(x=lnc_x + mir_x, y=lnc_y + mir_y, mode="text", text=lnc_names + mir_names,
                         textposition="middle center", textfont=dict(size=16, color="#111111", family=FONT),
                         xaxis="x8", yaxis="y8", showlegend=False, hoverinfo="skip"))
fig.add_trace(go.Scatter(x=mrna_x, y=mrna_y, mode="text", text=mrna_names, textposition="middle center",
                         textfont=dict(size=22, color="#FFFFFF", family=FONT),
                         xaxis="x8", yaxis="y8", showlegend=False, hoverinfo="skip"))

# legend for panel C (drawn manually)
LEG_BOX = (1332, 1619, 1512, 1841)
shapes.append(dict(type="rect", xref="paper", yref="paper", x0=pxx(LEG_BOX[0]), x1=pxx(LEG_BOX[2]),
                   y0=pxy(LEG_BOX[3]), y1=pxy(LEG_BOX[1]), line=dict(color="#8C8C8C", width=1),
                   fillcolor="rgba(0,0,0,0)"))
annotations.append(paper_text(1422, 1646, "<b>RNA Category</b>", 20, "#111111"))
for txt, yy in [("lncRNA", 1706), ("miRNA", 1760), ("mRNA", 1812)]:
    annotations.append(paper_text(1421, yy, txt, 18, "#111111", xanchor="left"))
gx = 1381 / S
fig.add_trace(poly_trace(diamond, [gx], [1706 / S], LNC_C, 27, 12.2))
fig.add_trace(poly_trace(chevron, [gx], [1760 / S], MIR_C, 23.4, 13.6, 8))
fig.add_trace(poly_trace(ellipse, [gx], [1812 / S], MRNA_C, 23.4, 10.7))

# panel letters
for letter, lx, ly in [("A", 2, 6), ("B", 897, 6), ("C", 1, 776)]:
    annotations.append(paper_text(lx, ly, "<b>%s</b>" % letter, 26, xanchor="left", yanchor="top"))

layout["shapes"] = shapes
layout["annotations"] = annotations
fig.update_layout(**layout)

fig.write_html("out.html", config={"displayModeBar": False, "staticPlot": True},
               post_script="document.body.style.margin='0';document.body.style.overflow='hidden';")
